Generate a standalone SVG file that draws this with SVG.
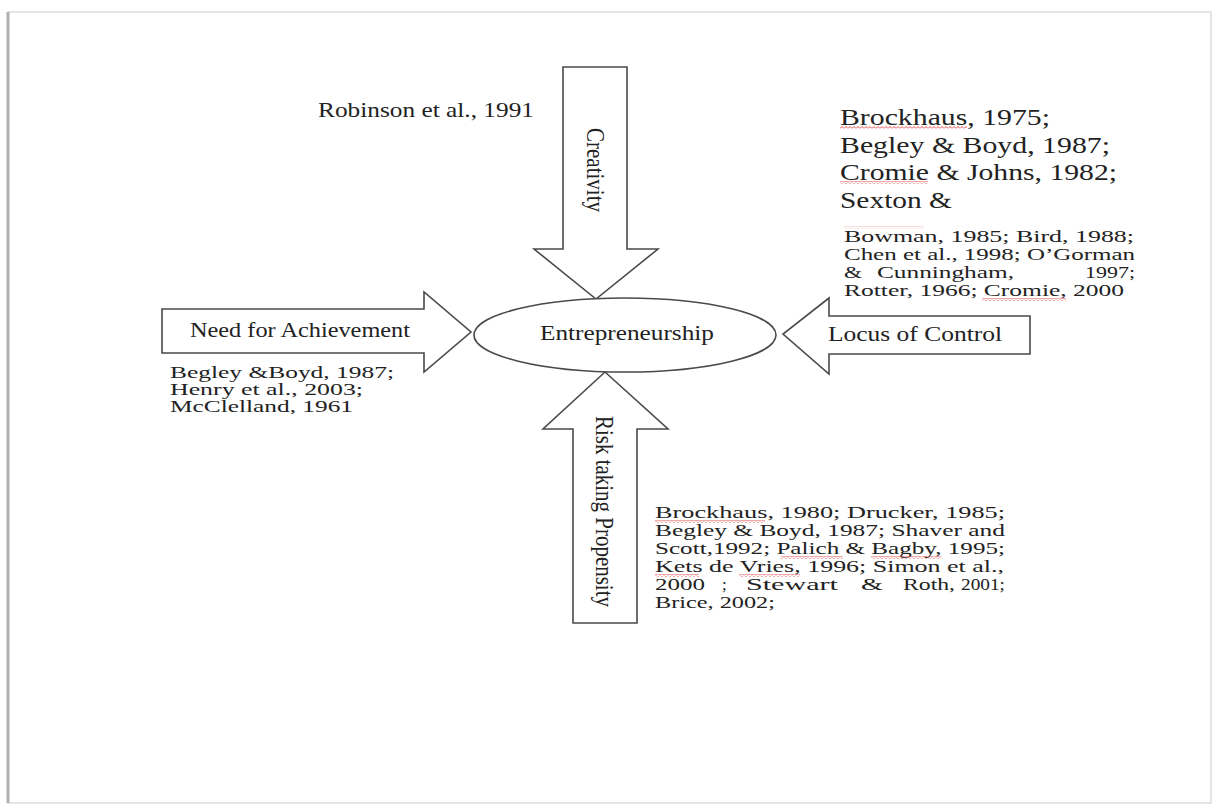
<svg xmlns="http://www.w3.org/2000/svg" width="1214" height="807" viewBox="0 0 1214 807">
<style>
.shape{fill:#fff;stroke:#4a4a4a;stroke-width:1.6;stroke-linejoin:miter}
.t{font-family:"Liberation Serif","Times New Roman",serif;fill:#222}
.f16{font-size:16px}
.f17{font-size:17px}
.f20{font-size:20px}
.f21{font-size:21px}
.f23{font-size:23px}
.sq{fill:url(#squig)}
</style>
<defs>
<pattern id="squig" patternUnits="userSpaceOnUse" width="4" height="3">
<path d="M0,2.5 L2,0.5 L4,2.5" fill="none" stroke="#e23c3c" stroke-width="0.9"/>
</pattern>
</defs>
<rect x="0" y="0" width="1214" height="807" fill="#fff"/>
<rect x="8" y="12" width="1203" height="791" fill="none" stroke="#dcdcdc" stroke-width="1.5"/>
<line x1="8" y1="12" x2="8" y2="803" stroke="#b0b0b0" stroke-width="3"/>

<g id="connectors">
<polygon id="arrow-creativity" class="shape" points="563,67 627,67 627,249 658,249 596,299 534,249 563,249"/>
<polygon id="arrow-need" class="shape" points="162,309 424,309 424,292 471,332 424,372 424,353 162,353"/>
<polygon id="arrow-locus" class="shape" points="1030,316 829,316 829,298 783,334 829,374 829,354 1030,354"/>
<polygon id="arrow-risk" class="shape" points="573,623 573,429 543,429 605,372 668,429 637,429 637,623"/>
</g>

<g id="node-entrepreneurship">
<ellipse class="shape" cx="625" cy="335" rx="151" ry="37"/>
<text class="t f21" x="540" y="340" textLength="174" lengthAdjust="spacingAndGlyphs">Entrepreneurship</text>
</g>

<g id="node-creativity">
<text class="t f21" transform="translate(587,128) scale(1.15,1) rotate(90)" x="0" y="0" textLength="84" lengthAdjust="spacingAndGlyphs">Creativity</text>
<text class="t f21" x="318" y="117" textLength="216" lengthAdjust="spacingAndGlyphs">Robinson et al., 1991</text>
</g>

<g id="node-need">
<text class="t f20" x="190" y="337" textLength="220" lengthAdjust="spacingAndGlyphs">Need for Achievement</text>
<text class="t f16" x="170" y="378" textLength="224" lengthAdjust="spacingAndGlyphs">Begley &amp;Boyd, 1987;</text>
<text class="t f16" x="170" y="395" textLength="193" lengthAdjust="spacingAndGlyphs">Henry et al., 2003;</text>
<text class="t f16" x="170" y="412" textLength="183" lengthAdjust="spacingAndGlyphs">McClelland, 1961</text>
</g>

<g id="node-locus">
<text class="t f21" x="828" y="341" textLength="174" lengthAdjust="spacingAndGlyphs">Locus of Control</text>
<text class="t f23" x="840" y="125" textLength="210" lengthAdjust="spacingAndGlyphs">Brockhaus, 1975;</text>
<text class="t f23" x="840" y="153" textLength="270" lengthAdjust="spacingAndGlyphs">Begley &amp; Boyd, 1987;</text>
<text class="t f23" x="840" y="180" textLength="277" lengthAdjust="spacingAndGlyphs">Cromie &amp; Johns, 1982;</text>
<text class="t f23" x="840" y="208" textLength="112" lengthAdjust="spacingAndGlyphs">Sexton &amp;</text>
<text class="t f16" x="844" y="242" textLength="290" lengthAdjust="spacingAndGlyphs">Bowman, 1985; Bird, 1988;</text>
<text class="t f16" x="844" y="260" textLength="291" lengthAdjust="spacingAndGlyphs">Chen et al., 1998; O’Gorman</text>
<text class="t f16" x="844" y="278" textLength="18" lengthAdjust="spacingAndGlyphs">&amp;</text>
<text class="t f16" x="877" y="278" textLength="137" lengthAdjust="spacingAndGlyphs">Cunningham,</text>
<text class="t f16" x="1085" y="278" textLength="50" lengthAdjust="spacingAndGlyphs">1997;</text>
<text class="t f16" x="844" y="296" textLength="280" lengthAdjust="spacingAndGlyphs">Rotter, 1966; Cromie, 2000</text>
<rect class="sq" x="840" y="126" width="127" height="3"/>
<rect class="sq" x="840" y="181" width="88" height="3"/>
<rect class="sq" x="844" y="226" width="80" height="3" opacity="0.35"/>
<rect class="sq" x="982" y="298" width="84" height="3"/>
</g>

<g id="node-risk">
<text class="t f21" transform="translate(596,416) scale(1.15,1) rotate(90)" x="0" y="0" textLength="191" lengthAdjust="spacingAndGlyphs">Risk taking Propensity</text>
<text class="t f17" x="655" y="518" textLength="350" lengthAdjust="spacingAndGlyphs">Brockhaus, 1980; Drucker, 1985;</text>
<text class="t f17" x="655" y="536" textLength="350" lengthAdjust="spacingAndGlyphs">Begley &amp; Boyd, 1987; Shaver and</text>
<text class="t f17" x="655" y="554" textLength="350" lengthAdjust="spacingAndGlyphs">Scott,1992; Palich &amp; Bagby, 1995;</text>
<text class="t f17" x="655" y="572" textLength="349" lengthAdjust="spacingAndGlyphs">Kets de Vries, 1996; Simon et al.,</text>
<text class="t f17" x="655" y="590" textLength="50" lengthAdjust="spacingAndGlyphs">2000</text>
<text class="t f17" x="722" y="590">;</text>
<text class="t f17" x="746" y="590" textLength="92" lengthAdjust="spacingAndGlyphs">Stewart</text>
<text class="t f17" x="861" y="590" textLength="22" lengthAdjust="spacingAndGlyphs">&amp;</text>
<text class="t f17" x="903" y="590" textLength="52" lengthAdjust="spacingAndGlyphs">Roth,</text>
<text class="t f17" x="961" y="590" textLength="44" lengthAdjust="spacingAndGlyphs">2001;</text>
<text class="t f17" x="655" y="608" textLength="120" lengthAdjust="spacingAndGlyphs">Brice, 2002;</text>
<rect class="sq" x="655" y="520" width="110" height="3"/>
<rect class="sq" x="781" y="556" width="62" height="3"/>
<rect class="sq" x="871" y="556" width="70" height="3"/>
<rect class="sq" x="655" y="574" width="44" height="3"/>
<rect class="sq" x="739" y="574" width="61" height="3"/>
</g>
</svg>
